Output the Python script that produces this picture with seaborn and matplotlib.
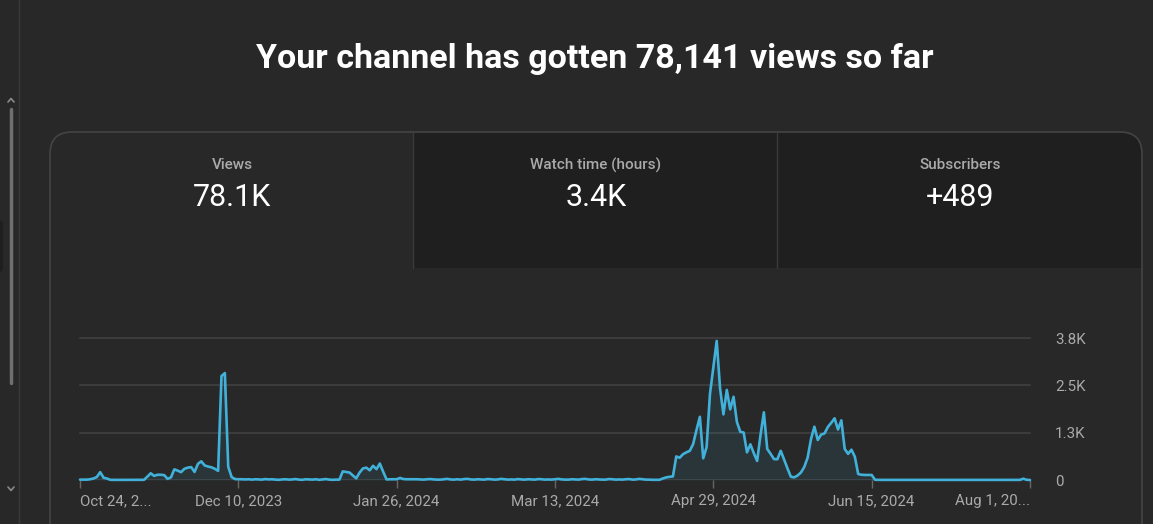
import pandas as pd
import seaborn as sns
import matplotlib.pyplot as plt
from matplotlib.patches import FancyBboxPatch, Rectangle

# daily views, Oct 24 2023 .. Aug 1 2024
oct_views = [10, 10, 10, 20, 40, 80, 210, 60]
nov_views = [40, 5, 3, 3, 3, 3, 3, 3, 3, 3, 3, 5, 90, 180, 110, 140, 140, 130, 30, 70,
             285, 250, 210, 300, 330, 345, 215, 430, 500, 390]
dec_views = [360, 340, 300, 245, 2780, 2860, 355, 80, 25, 20, 20, 15, 20, 10, 20, 15,
             10, 25, 15, 20, 10, 5, 15, 20, 10, 15, 25, 10, 5, 20, 15]
jan_views = [10, 20, 5, 15, 25, 10, 5, 10, 10, 230, 215, 200, 120, 45, 200, 310,
             330, 260, 380, 290, 440, 220, 15, 20, 20, 20, 55, 25, 20, 20, 20]
feb_views = [20, 15, 10, 20, 25, 15, 10, 10, 20, 30, 15, 10, 20, 10, 25, 30, 15, 10,
             20, 15, 10, 25, 20, 10, 15, 30, 20, 10, 15]
mar_views = [10, 25, 15, 10, 20, 15, 10, 25, 20, 10, 15, 10, 20, 30, 15, 10, 10, 20,
             15, 10, 25, 30, 15, 10, 20, 15, 10, 10, 25, 20, 10]
apr_views = [15, 10, 20, 25, 10, 15, 30, 20, 10, 10, 5, 5, 5, 40, 70, 85, 95, 630,
             595, 690, 740, 780, 960, 1335, 1690, 580, 880, 2300, 3000, 3720]
may_views = [2450, 1755, 2410, 1890, 2225, 1550, 1290, 1270, 740, 955, 720, 510,
             1200, 1810, 830, 700, 560, 555, 780, 550, 310, 90, 70, 120, 200, 350,
             600, 1100, 1425, 1070, 1215]
jun_views = [1245, 1420, 1530, 1650, 1350, 1595, 830, 700, 810, 625, 160, 140, 135,
             135, 135, 5, 3, 3, 3, 3, 3, 3, 3, 3, 3, 3, 3, 3, 3, 3]
jul_views = [3, 3, 3, 3, 3, 3, 3, 3, 3, 3, 3, 3, 3, 3, 3, 3, 3, 3, 3, 3, 3, 3, 3, 3,
             3, 3, 3, 3, 3, 35, 5]
aug_views = [0]
start_date = "2023-10-24"

x_tick_dates = ["2023-10-24", "2023-12-10", "2024-01-26", "2024-03-13",
                "2024-04-29", "2024-06-15", "2024-08-01"]
x_tick_labels = ["Oct 24, 2...", "Dec 10, 2023", "Jan 26, 2024", "Mar 13, 2024",
                 "Apr 29, 2024", "Jun 15, 2024", "Aug 1, 20..."]
y_tick_values = [0, 1266, 2532, 3798]
y_tick_labels = ["0", "1.3K", "2.5K", "3.8K"]

title = "Your channel has gotten 78,141 views so far"
tab_names = ["Views", "Watch time (hours)", "Subscribers"]
tab_values = ["78.1K", "3.4K", "+489"]

views = (oct_views + nov_views + dec_views + jan_views + feb_views + mar_views
         + apr_views + may_views + jun_views + jul_views + aug_views)
df = pd.DataFrame({"date": pd.date_range(start_date, periods=len(views)), "views": views})

BG = "#282828"
DARK = "#1f1f1f"
BORDER = "#444444"
GREY = "#aaaaaa"
BLUE = "#41b1da"

sns.set_theme(style="dark")
plt.rcParams["font.family"] = ["Roboto", "DejaVu Sans"]

W, H = 1153, 524
fig = plt.figure(figsize=(W / 100, H / 100), dpi=100, facecolor=BG)

# page chrome in pixel coords
bg = fig.add_axes([0, 0, 1, 1])
bg.set_xlim(0, W)
bg.set_ylim(H, 0)
bg.axis("off")
bg.set_facecolor(BG)

# left sidebar edge + scrollbar
bg.plot([18.5, 18.5], [0, H], color="#3a3a3a", lw=1)
bg.plot([11, 11], [109, 383], color="#6f6f6f", lw=2.5, solid_capstyle="round")
bg.plot([8, 11, 14], [102, 98.5, 102], color="#8a8a8a", lw=1.2)
bg.plot([8, 11, 14], [487, 490.5, 487], color="#8a8a8a", lw=1.2)
bg.add_patch(FancyBboxPatch((-12, 220), 15, 52, boxstyle="round,pad=0,rounding_size=4",
                            fc=DARK, ec="none"))

bg.text(595, 68, title, ha="center", va="baseline", fontsize=24.5, weight="bold", color="white")

card = FancyBboxPatch((50, 132), 1092, 500, boxstyle="round,pad=0,rounding_size=22",
                      fc="none", ec=BORDER, lw=1.2, zorder=3)
bg.add_patch(card)
dark_tabs = Rectangle((413, 132), 729, 136, fc=DARK, ec="none", zorder=1)
bg.add_patch(dark_tabs)
dark_tabs.set_clip_path(card)
for sx in (413, 777):
    bg.plot([sx, sx], [133, 268], color="#3a3a3a", lw=1, zorder=2)

for cx, name, val in zip([232, 596, 960], tab_names, tab_values):
    bg.text(cx, 165, name, ha="center", va="center", fontsize=11, color=GREY, weight="medium")
    bg.text(cx, 198, val, ha="center", va="center", fontsize=22, color="white")

# the views chart
ax = fig.add_axes([80 / W, (H - 480) / H, 950 / W, 142 / H])
ax.set_facecolor("none")
ax.fill_between(df["date"], df["views"], color=BLUE, alpha=0.1, lw=0)
sns.lineplot(data=df, x="date", y="views", ax=ax, color=BLUE, lw=1.9)
ax.lines[-1].set_clip_on(False)
ax.set_xlim(df["date"].iloc[0], df["date"].iloc[-1])
ax.set_ylim(0, y_tick_values[-1])

for yv in y_tick_values[1:]:
    ax.axhline(yv, color="#3c3c3c", lw=1.5, zorder=0, clip_on=False)
ax.axhline(0, color="#8c8c8c", lw=1, zorder=1)

ax.set_xticks(pd.to_datetime(x_tick_dates))
ax.set_xticklabels(x_tick_labels)
ax.tick_params(axis="x", length=6, width=1, color="#666666", pad=4,
               labelsize=10.9, labelcolor=GREY, bottom=True)
labels = ax.get_xticklabels()
labels[0].set_ha("left")
labels[-1].set_ha("right")

ax.yaxis.tick_right()
ax.set_yticks(y_tick_values)
ax.set_yticklabels(y_tick_labels)
ax.tick_params(axis="y", length=0, pad=18, labelsize=10.9, labelcolor=GREY)
ax.set_xlabel("")
ax.set_ylabel("")
ax.grid(False)
sns.despine(ax=ax, left=True, bottom=True)

fig.savefig("out.png", dpi=100, facecolor=BG)
plt.close(fig)
